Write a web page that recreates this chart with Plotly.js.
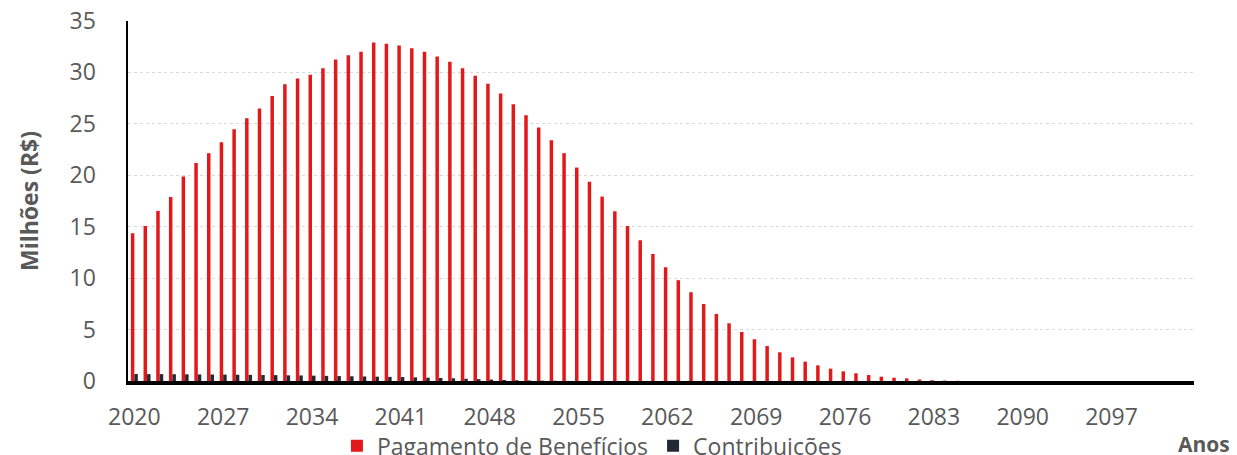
<!DOCTYPE html>
<html>
<head>
<meta charset="utf-8">
<script src="https://cdn.plot.ly/plotly-3.0.1.min.js"></script>
<style>html,body{margin:0;padding:0;background:#fff;}#chart{width:1237px;height:455px;}</style>
</head>
<body>
<div id="chart"></div>
<script>
const years = [2020,2021,2022,2023,2024,2025,2026,2027,2028,2029,2030,2031,2032,2033,2034,2035,2036,2037,2038,2039,
  2040,2041,2042,2043,2044,2045,2046,2047,2048,2049,2050,2051,2052,2053,2054,2055,2056,2057,2058,2059,
  2060,2061,2062,2063,2064,2065,2066,2067,2068,2069,2070,2071,2072,2073,2074,2075,2076,2077,2078,2079,
  2080,2081,2082,2083,2084,2085,2086,2087,2088,2089,2090,2091,2092,2093,2094,2095,2096,2097,2098,2099,
  2100,2101,2102,2103];

const pagamentoBeneficios = [14.37,15.08,16.54,17.90,19.88,21.20,22.15,23.20,24.48,25.55,26.50,27.72,28.86,29.41,29.77,30.41,31.26,31.68,32.00,32.90,
  32.78,32.62,32.36,32.00,31.55,31.05,30.41,29.67,28.89,27.95,26.90,25.84,24.64,23.41,22.15,20.75,19.36,17.93,16.50,15.08,
  13.68,12.35,11.06,9.80,8.63,7.49,6.52,5.61,4.77,4.06,3.40,2.79,2.30,1.88,1.52,1.20,0.94,0.75,0.58,0.42,
  0.32,0.26,0.15,0.08,0.04,0.02,0,0,0,0,0,0,0,0,0,0,0,0,0,0,
  0,0,0,0];

const contribuicoes = [0.68,0.67,0.67,0.66,0.65,0.64,0.63,0.62,0.61,0.60,0.58,0.57,0.55,0.54,0.52,0.50,0.48,0.46,0.44,0.42,
  0.40,0.38,0.35,0.32,0.29,0.26,0.22,0.18,0.14,0.10,0.07,0.05,0.03,0.02,0.01,0,0,0,0,0,
  0,0,0,0,0,0,0,0,0,0,0,0,0,0,0,0,0,0,0,0,
  0,0,0,0,0,0,0,0,0,0,0,0,0,0,0,0,0,0,0,0,
  0,0,0,0];

const xTickVals = [2020,2027,2034,2041,2048,2055,2062,2069,2076,2083,2090,2097];
const xTickText = ['2020','2027','2034','2041','2048','2055','2062','2069','2076','2083','2090','2097'];
const yTickVals = [0,5,10,15,20,25,30,35];

const FONT = '"Open Sans", "Noto Sans", sans-serif';
const GREY = '#595959';

const data = [
  {type:'bar', name:'Pagamento de Benefícios', x: years, y: pagamentoBeneficios,
   marker:{color:'#E2191A'}, hoverinfo:'x+y'},
  {type:'bar', name:'Contribuições', x: years, y: contribuicoes,
   marker:{color:'#222A35'}, hoverinfo:'x+y'}
];

const layout = {
  width:1237, height:455,
  margin:{l:128, r:43, t:21, b:74, autoexpand:false},
  paper_bgcolor:'#fff', plot_bgcolor:'#fff',
  barmode:'group', bargap:0.45, bargroupgap:0,
  font:{family:FONT, color:GREY, size:23},
  xaxis:{
    type:'linear', range:[2019.5, 2103.5],
    tickmode:'array', tickvals:xTickVals, ticktext:xTickText,
    ticks:'', ticklabelstandoff:13,
    showgrid:false, zeroline:false,
    showline:true, linecolor:'#000', linewidth:3.5,
    tickfont:{family:FONT, size:23, color:GREY}
  },
  yaxis:{
    range:[0,35], tickmode:'array', tickvals:yTickVals,
    ticks:'', ticklabelstandoff:25,
    showgrid:true, gridcolor:'#D9D9D9', griddash:'dot', gridwidth:1,
    zeroline:false, showline:true, linecolor:'#000', linewidth:2.5,
    tickfont:{family:FONT, size:23, color:GREY},
    title:{text:'<b>Milhões (R$)</b>', font:{family:FONT, size:23, color:GREY}, standoff:25}
  },
  legend:{orientation:'h', x:0.196, xanchor:'left', y:-0.12, yanchor:'top',
    font:{family:FONT, size:23, color:GREY}, bgcolor:'rgba(0,0,0,0)', itemclick:false},
  showlegend:true,
  annotations:[
    {xref:'paper', yref:'paper', x:1.036, y:-0.13, xanchor:'right', yanchor:'top',
     text:'<b>Anos</b>', showarrow:false, font:{family:FONT, size:21, color:GREY}}
  ]
};

Plotly.newPlot('chart', data, layout, {displayModeBar:false, staticPlot:true});
</script>
</body>
</html>
